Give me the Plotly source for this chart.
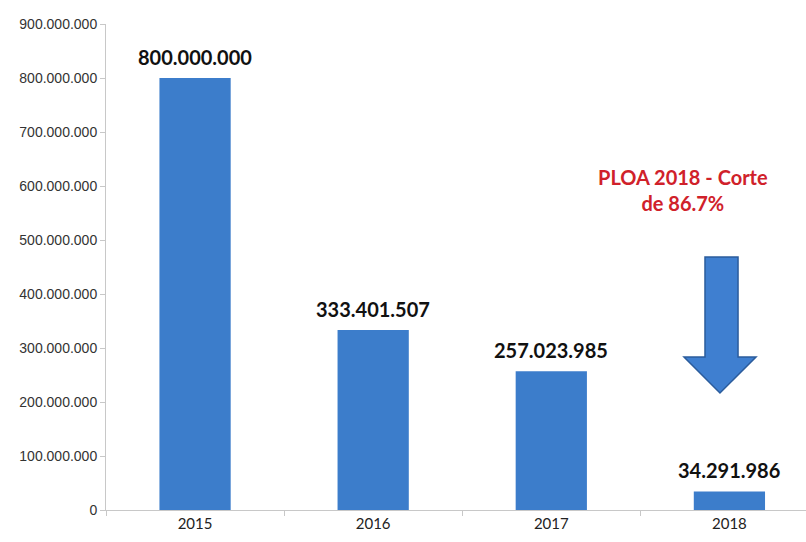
import plotly.graph_objects as go

# Budget by year
years = ["2015", "2016", "2017", "2018"]
values = [800000000, 333401507, 257023985, 34291986]
tick_vals = [0, 100000000, 200000000, 300000000, 400000000, 500000000,
             600000000, 700000000, 800000000, 900000000]

note_lines = ["PLOA 2018 - Corte", "de 86.7%"]

BAR = "#3c7dcb"
W, H = 806, 542
L, R, T, B = 106, 0, 24, 32
plot_w = W - L - R
plot_h = H - T - B

fig = go.Figure()
fig.add_trace(go.Bar(
    x=years, y=values,
    marker=dict(color=BAR, line=dict(width=0)),
    width=0.40,
    hoverinfo="skip",
))

# Value labels above each bar (category axis positions are serial indices)
for i, v in enumerate(values):
    fig.add_annotation(
        x=i, y=v, xref="x", yref="y",
        text=f"{v:,}".replace(",", "."),
        showarrow=False, yanchor="middle", yshift=21,
        font=dict(family="Lato", size=20, color="#111111", weight="bold"),
    )

# Down arrow next to the 2018 bar, defined in pixels then mapped to paper space
def px(x):
    return (x - L) / plot_w

def py(y):
    return (H - B - y) / plot_h

arrow_pts = [(705, 257), (738, 257), (738, 357), (756, 357), (720, 393),
             (684, 357), (705, 357)]
path = "M " + " L ".join(f"{px(x):.4f},{py(y):.4f}" for x, y in arrow_pts) + " Z"
fig.add_shape(type="path", path=path, xref="paper", yref="paper",
              fillcolor="#3f7fd0", line=dict(color="#2b5c9c", width=1.5))

fig.add_annotation(
    x=px(683), y=py(190), xref="paper", yref="paper",
    text="<br>".join(note_lines), showarrow=False,
    font=dict(family="Lato", size=20, color="#d0212a", weight="bold"),
    align="center", xanchor="center", yanchor="middle",
)

fig.update_layout(
    width=W, height=H,
    margin=dict(l=L, r=R, t=T, b=B),
    paper_bgcolor="white", plot_bgcolor="white",
    separators=",.",
    showlegend=False,
    xaxis=dict(
        type="category",
        range=[-0.5, 3.43],
        showgrid=False,
        showline=True, linecolor="#c8c8c8", linewidth=1,
        ticks="outside", tickson="boundaries", ticklen=5, tickcolor="#c8c8c8",
        tickfont=dict(family="Lato", size=15, color="#222222"),
        fixedrange=True,
    ),
    yaxis=dict(
        range=[0, 900000000],
        tickvals=tick_vals,
        tickformat=",d",
        showgrid=False, zeroline=False,
        showline=True, linecolor="#c8c8c8", linewidth=1,
        ticks="outside", ticklen=5, tickcolor="#c8c8c8",
        tickfont=dict(family="Liberation Sans", size=14, color="#333333"),
        fixedrange=True,
    ),
)

fig.write_html("out.html")
